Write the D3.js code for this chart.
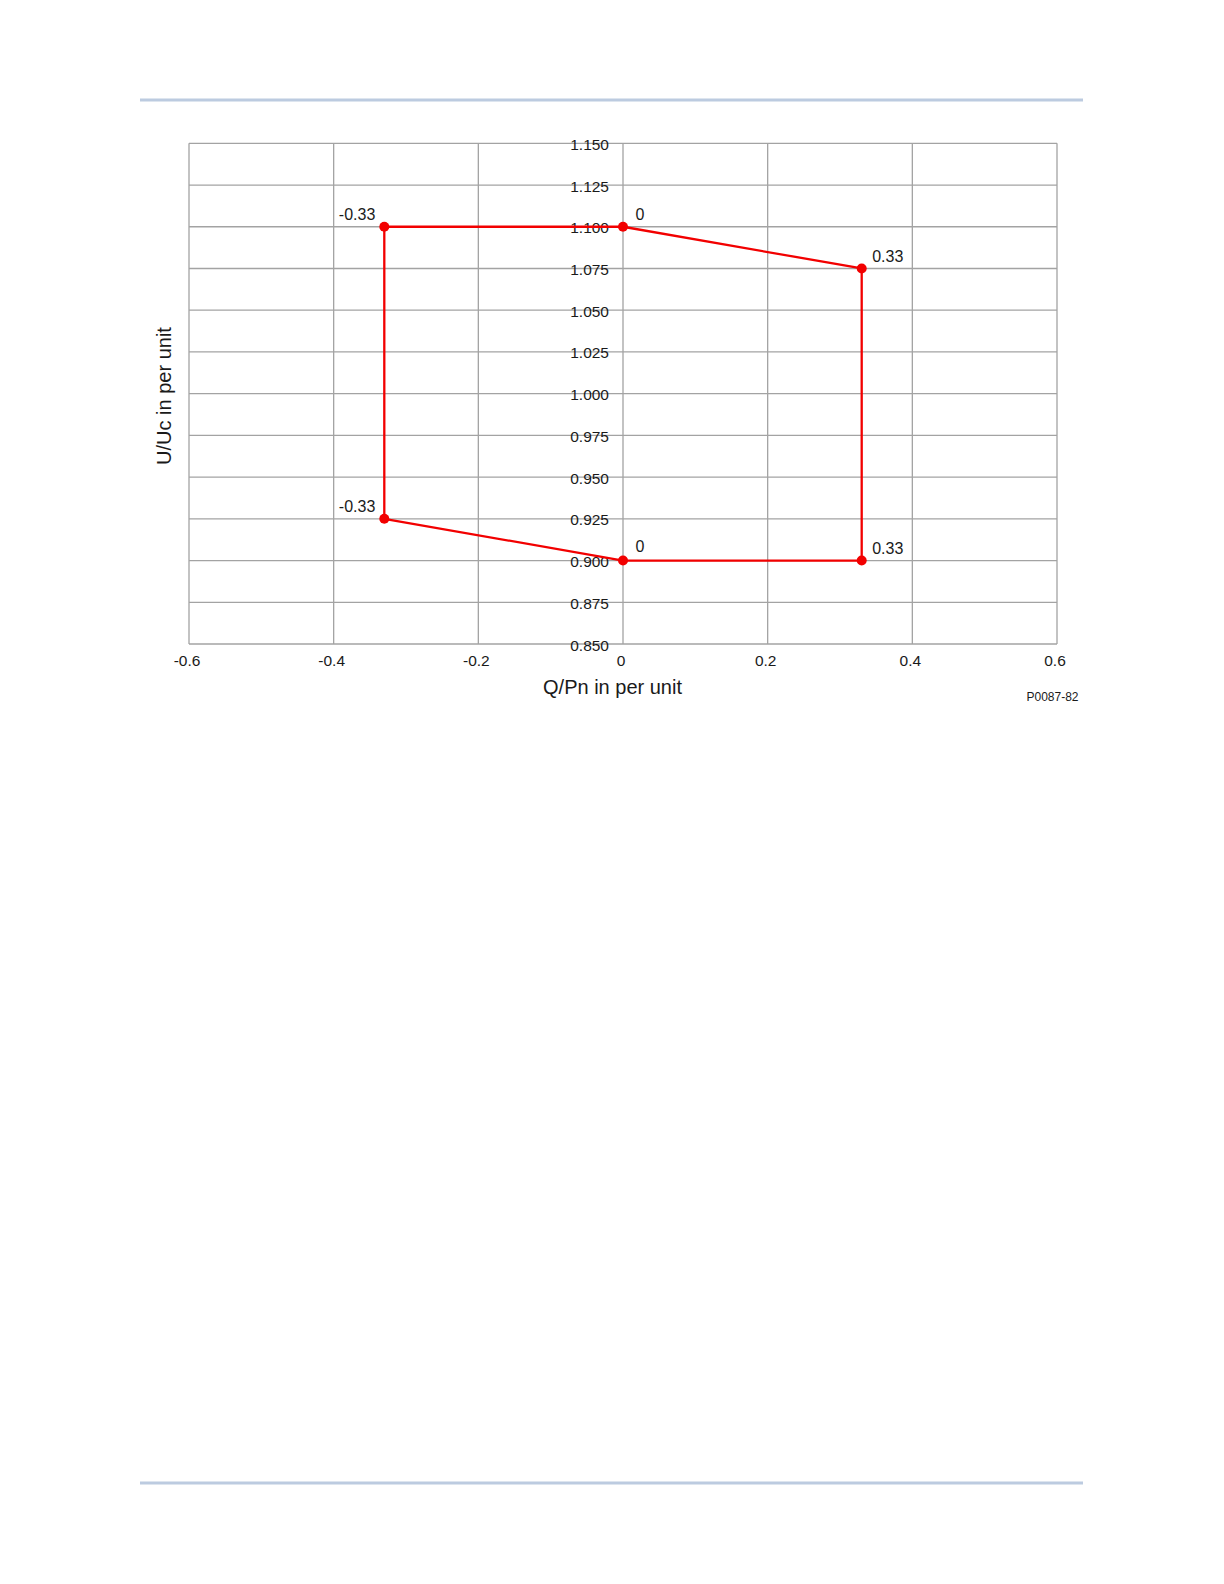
<!DOCTYPE html>
<html>
<head>
<meta charset="utf-8">
<script src="https://cdn.jsdelivr.net/npm/d3@7/dist/d3.min.js"></script>
<style>
  html, body { margin: 0; padding: 0; background: #fff; }
  svg { display: block; }
  text { font-family: "Liberation Sans", Arial, sans-serif; fill: #1a1a1a; }
</style>
</head>
<body>
<svg id="chart" width="1224" height="1584"></svg>
<script>
// ---- data ----
const xTicks = [-0.6, -0.4, -0.2, 0, 0.2, 0.4, 0.6];
const xTickLabels = ["-0.6", "-0.4", "-0.2", "0", "0.2", "0.4", "0.6"];
const yTicks = [0.850, 0.875, 0.900, 0.925, 0.950, 0.975, 1.000, 1.025, 1.050, 1.075, 1.100, 1.125, 1.150];
const yTickLabels = ["0.850", "0.875", "0.900", "0.925", "0.950", "0.975", "1.000", "1.025", "1.050", "1.075", "1.100", "1.125", "1.150"];
const pointQ = [-0.33, 0, 0.33, 0.33, 0, -0.33];
const pointU = [1.100, 1.100, 1.075, 0.900, 0.900, 0.925];
const pointLabels = ["-0.33", "0", "0.33", "0.33", "0", "-0.33"];
const xTitle = "Q/Pn in per unit";
const yTitle = "U/Uc in per unit";
const figureId = "P0087-82";

// ---- layout ----
const svg = d3.select("#chart");
const plotLeft = 189, plotRight = 1057, plotTop = 143.3, plotBottom = 644;
const x = d3.scaleLinear().domain([-0.6, 0.6]).range([plotLeft, plotRight]);
const y = d3.scaleLinear().domain([0.85, 1.15]).range([plotBottom, plotTop]);

// page rules
svg.append("rect").attr("x", 140).attr("y", 98.5).attr("width", 943).attr("height", 3).attr("fill", "#bccbe0");
svg.append("rect").attr("x", 140).attr("y", 1481.5).attr("width", 943).attr("height", 3).attr("fill", "#bccbe0");

const gridColor = "#a3a3a3";
// grid
const grid = svg.append("g");
grid.selectAll("line.v").data(xTicks).join("line")
  .attr("x1", d => x(d)).attr("x2", d => x(d))
  .attr("y1", plotTop).attr("y2", plotBottom)
  .attr("stroke", gridColor).attr("stroke-width", 1.3);
grid.selectAll("line.h").data(yTicks).join("line")
  .attr("x1", plotLeft).attr("x2", plotRight)
  .attr("y1", d => y(d)).attr("y2", d => y(d))
  .attr("stroke", gridColor).attr("stroke-width", 1.3);

// y tick labels next to the x=0 line
svg.append("g").selectAll("text").data(yTicks).join("text")
  .attr("x", x(0) - 14).attr("y", d => y(d) + 1)
  .attr("text-anchor", "end").attr("dominant-baseline", "central")
  .attr("font-size", "15.5px")
  .text((d, i) => yTickLabels[i]);

// x tick labels
svg.append("g").selectAll("text").data(xTicks).join("text")
  .attr("x", d => x(d) - 2).attr("y", 660.5)
  .attr("text-anchor", "middle").attr("dominant-baseline", "central")
  .attr("font-size", "15.5px")
  .text((d, i) => xTickLabels[i]);

// titles
svg.append("text").attr("x", 612.5).attr("y", 694)
  .attr("text-anchor", "middle").attr("font-size", "20px").text(xTitle);
svg.append("text")
  .attr("transform", `translate(171,396) rotate(-90)`)
  .attr("text-anchor", "middle").attr("font-size", "20px").text(yTitle);
svg.append("text").attr("x", 1078.5).attr("y", 700.5)
  .attr("text-anchor", "end").attr("font-size", "12px").text(figureId);

// polygon
const pts = pointQ.map((q, i) => ({ q, u: pointU[i], label: pointLabels[i], i }));
const line = d3.line().x(d => x(d.q)).y(d => y(d.u)).curve(d3.curveLinearClosed);
svg.append("path").datum(pts).attr("d", line)
  .attr("fill", "none").attr("stroke", "#f20000").attr("stroke-width", 2.3)
  .attr("stroke-linejoin", "round");

svg.append("g").selectAll("circle").data(pts).join("circle")
  .attr("cx", d => x(d.q)).attr("cy", d => y(d.u)).attr("r", 5)
  .attr("fill", "#f20000");

// point labels
svg.append("g").selectAll("text").data(pts).join("text")
  .attr("x", d => d.q < 0 ? x(d.q) - 9 : x(d.q) + (d.q === 0 ? 12.5 : 10.5))
  .attr("y", d => y(d.u) - (d.i === 4 ? 8.5 : 6.5))
  .attr("text-anchor", d => d.q < 0 ? "end" : "start")
  .attr("font-size", "16px")
  .text(d => d.label);
</script>
</body>
</html>
